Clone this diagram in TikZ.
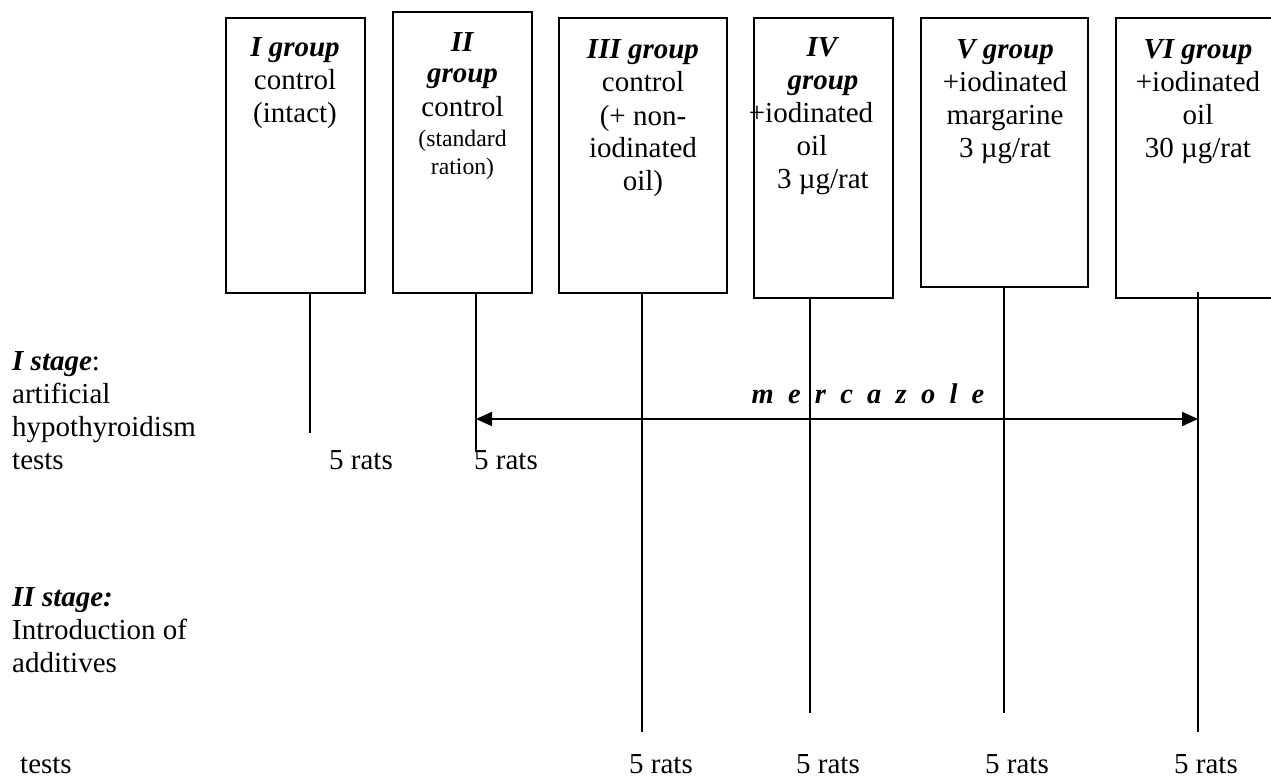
\documentclass[tikz,border=0pt]{standalone}
\usepackage{fontspec}
\setmainfont{Liberation Serif}
\usetikzlibrary{arrows.meta}
\newcommand{\bi}[1]{\textbf{\textit{#1}}}
\newcommand{\smalltxt}{\fontsize{23.7}{29}\selectfont}
\begin{document}
\begin{tikzpicture}[x=1pt,y=-1pt,
  grp/.style={draw, line width=1.6pt, inner sep=0pt, outer sep=0pt},
  txt/.style={font=\fontsize{29}{33}\selectfont, inner sep=0pt, anchor=base, align=center},
  lbl/.style={font=\fontsize{29}{33}\selectfont, inner sep=0pt, anchor=base west, align=left},
  conn/.style={line width=1.4pt},
  arr/.style={line width=2pt, {Triangle[length=16pt,width=14pt]}-{Triangle[length=16pt,width=14pt]}}
]
\useasboundingbox (0,0) rectangle (1271,778);
\fill[white] (0,0) rectangle (1271,778);

% group boxes
\node[grp, minimum width=139pt, minimum height=275pt] (g1) at (295.5,155.5) {};
\node[grp, minimum width=139pt, minimum height=281pt] (g2) at (462.5,152.5) {};
\node[grp, minimum width=168pt, minimum height=275pt] (g3) at (643,155.5) {};
\node[grp, minimum width=139pt, minimum height=280pt] (g4) at (823.5,158) {};
\node[grp, minimum width=167pt, minimum height=269pt] (g5) at (1004.5,152.5) {};
\node[grp, minimum width=170pt, minimum height=280pt] (g6) at (1201,158) {};

% box texts (anchored at the baseline of their last line)
\node[txt] (t1) at (295,123) {\bi{I group}\\control\\(intact)};
\node[txt] (t2) at (462.5,175) {\bi{II}\\[-2pt]\bi{group}\\[1pt]control\\[-3pt]{\smalltxt (standard}\\[-5pt]{\smalltxt ration)}};
\node[txt] (t3) at (643,191) {\bi{III group}\\control\\(+ non-\\iodinated\\oil)};
\node[txt] (t4) at (823,189) {\bi{IV}\\\bi{group}\\\hspace*{-24pt}+iodinated\\\hspace*{-22pt}oil\\3 µg/rat};
\node[txt] (t5) at (1005,158) {\bi{V group}\\+iodinated\\margarine\\3 µg/rat};
\node[txt] (t6) at (1198,158) {\bi{VI group}\\+iodinated\\oil\\30 µg/rat};

% line ends
\coordinate (e1) at (310,433);
\coordinate (e2) at (476,452);
\coordinate (e3) at (642,732);
\coordinate (e4) at (810,713);
\coordinate (e5) at (1004,713);
\coordinate (e6) at (1198,732);

\draw[conn] (e1 |- g1.south) -- (e1);
\draw[conn] (e2 |- g2.south) -- (e2);
\draw[conn] (e3 |- g3.south) -- (e3);
\draw[conn] (e4 |- g4.south) -- (e4);
\draw[conn] (e5 |- g5.south) -- (e5);
\draw[conn] ([yshift=6pt]e6 |- g6.south) -- (e6);

% mercazole arrow
\coordinate (a1) at (476,419);
\coordinate (a2) at (1198,419);
\draw[arr] (a1) -- (a2);
\node[txt, font=\fontsize{28.5}{33}\selectfont\bfseries\itshape] (merc) at (868,403)
  {m\enspace e\enspace r\enspace c\enspace a\enspace z\enspace o\enspace l\enspace e};

% stage labels (anchored at the baseline of their last line)
\node[lbl] (s1) at (12,469) {\bi{I stage}:\\artificial\\hypothyroidism\\tests};
\node[lbl] (s2) at (12,672) {\bi{II stage:}\\Introduction of\\additives};
\node[lbl] (s2t) at (20,773) {tests};

% rat counts
\node[lbl] (r1) at (329,469) {5 rats};
\node[lbl] (r2) at (474,469) {5 rats};
\node[txt] (r3) at (661,773) {5 rats};
\node[txt] (r4) at (828,773) {5 rats};
\node[txt] (r5) at (1017,773) {5 rats};
\node[txt] (r6) at (1206,773) {5 rats};
\end{tikzpicture}
\end{document}
